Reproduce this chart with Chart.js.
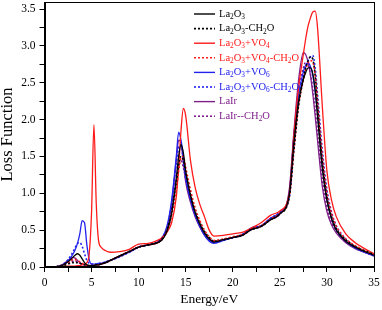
<!DOCTYPE html>
<html>
<head>
<meta charset="utf-8">
<script src="https://cdn.jsdelivr.net/npm/chart.js@4.4.1/dist/chart.umd.min.js"></script>
<style>
  html, body { margin: 0; padding: 0; background: #fff; }
  #wrap { width: 382px; height: 310px; }
</style>
</head>
<body>
<div id="wrap"><canvas id="lossChart" width="382" height="310"></canvas></div>
<script>
// energy (eV)
const energy = [0, 1, 1.5, 2, 2.5, 3, 3.25, 3.5, 3.75, 4, 4.25, 4.5, 4.75, 5, 5.25, 5.5, 5.75, 6, 6.5, 7,
  8, 9, 10, 11, 12, 12.5, 13, 13.5, 14, 14.25, 14.5, 14.75, 15, 15.5, 16, 16.5, 17, 17.5,
  18, 19, 20, 21, 22, 23, 24, 25, 26, 26.5, 27, 27.5, 27.75, 28, 28.25, 28.5, 28.75, 29, 29.5, 30, 30.5, 31, 32, 33, 34, 35]

// loss function per structure
const la2o3 = [0, 0, 0.01, 0.03, 0.07, 0.13, 0.16, 0.18, 0.16, 0.11, 0.06, 0.03, 0.02, 0.02, 0.02, 0.03, 0.03, 0.04, 0.06, 0.09,
  0.15, 0.21, 0.27, 0.30, 0.33, 0.37, 0.48, 0.72, 1.2, 1.5, 1.66, 1.55, 1.3, 0.98, 0.74, 0.58, 0.46, 0.38,
  0.34, 0.37, 0.40, 0.43, 0.51, 0.55, 0.64, 0.72, 0.98, 1.7, 2.25, 2.55, 2.64, 2.7, 2.7, 2.62, 2.4, 2.05, 1.35, 0.9, 0.65, 0.5, 0.35, 0.27, 0.21, 0.16]
const la2o3Ch2o = [0, 0, 0.01, 0.02, 0.04, 0.06, 0.06, 0.06, 0.05, 0.04, 0.03, 0.02, 0.02, 0.02, 0.02, 0.03, 0.03, 0.04, 0.06, 0.09,
  0.15, 0.21, 0.27, 0.30, 0.33, 0.38, 0.5, 0.75, 1.15, 1.38, 1.5, 1.45, 1.28, 0.98, 0.75, 0.6, 0.48, 0.4,
  0.35, 0.37, 0.40, 0.43, 0.51, 0.55, 0.64, 0.72, 0.95, 1.6, 2.2, 2.55, 2.7, 2.8, 2.85, 2.82, 2.6, 2.2, 1.45, 0.95, 0.68, 0.52, 0.37, 0.28, 0.22, 0.17]
const vo4 = [0, 0, 0, 0.01, 0.01, 0.01, 0.01, 0.02, 0.02, 0.03, 0.04, 0.06, 0.18, 0.75, 1.93, 0.85, 0.35, 0.27, 0.22, 0.2,
  0.21, 0.24, 0.31, 0.32, 0.36, 0.4, 0.47, 0.6, 0.95, 1.35, 1.85, 2.15, 2.05, 1.45, 1.08, 0.85, 0.68, 0.5,
  0.42, 0.43, 0.45, 0.47, 0.53, 0.6, 0.7, 0.76, 1.0, 1.8, 2.45, 2.89, 3.1, 3.27, 3.38, 3.46, 3.47, 3.25, 2.2, 1.3, 0.9, 0.68, 0.45, 0.33, 0.25, 0.18]
const vo4Ch2o = [0, 0, 0.01, 0.03, 0.06, 0.1, 0.1, 0.09, 0.07, 0.05, 0.03, 0.02, 0.02, 0.02, 0.02, 0.03, 0.03, 0.04, 0.06, 0.09,
  0.15, 0.21, 0.27, 0.30, 0.33, 0.38, 0.48, 0.7, 1.05, 1.3, 1.48, 1.5, 1.35, 1.05, 0.8, 0.63, 0.5, 0.41,
  0.36, 0.38, 0.41, 0.44, 0.52, 0.56, 0.65, 0.73, 0.95, 1.6, 2.2, 2.55, 2.68, 2.77, 2.8, 2.78, 2.6, 2.25, 1.5, 1.0, 0.72, 0.55, 0.38, 0.29, 0.22, 0.17]
const vo6 = [0, 0, 0.01, 0.03, 0.08, 0.17, 0.23, 0.32, 0.45, 0.63, 0.6, 0.3, 0.1, 0.04, 0.04, 0.04, 0.05, 0.05, 0.07, 0.09,
  0.14, 0.2, 0.27, 0.3, 0.34, 0.4, 0.55, 0.9, 1.5, 1.83, 1.72, 1.5, 1.22, 0.92, 0.7, 0.55, 0.43, 0.35,
  0.32, 0.36, 0.4, 0.44, 0.53, 0.56, 0.66, 0.74, 1.0, 1.78, 2.35, 2.65, 2.74, 2.77, 2.72, 2.6, 2.38, 2.1, 1.4, 0.92, 0.65, 0.5, 0.35, 0.26, 0.2, 0.15]
const vo6Ch2o = [0, 0, 0.01, 0.04, 0.1, 0.2, 0.26, 0.32, 0.33, 0.28, 0.18, 0.09, 0.05, 0.04, 0.04, 0.04, 0.05, 0.05, 0.07, 0.09,
  0.14, 0.2, 0.27, 0.3, 0.34, 0.4, 0.53, 0.85, 1.4, 1.62, 1.65, 1.45, 1.2, 0.92, 0.72, 0.57, 0.45, 0.37,
  0.33, 0.36, 0.4, 0.44, 0.53, 0.56, 0.66, 0.74, 0.95, 1.65, 2.25, 2.6, 2.72, 2.8, 2.85, 2.87, 2.7, 2.35, 1.6, 1.05, 0.74, 0.56, 0.38, 0.28, 0.21, 0.16]
const lair = [0, 0, 0.01, 0.04, 0.09, 0.13, 0.12, 0.09, 0.06, 0.04, 0.03, 0.02, 0.02, 0.02, 0.02, 0.03, 0.03, 0.04, 0.06, 0.09,
  0.15, 0.21, 0.27, 0.3, 0.33, 0.38, 0.52, 0.85, 1.45, 1.72, 1.68, 1.42, 1.15, 0.88, 0.68, 0.54, 0.43, 0.36,
  0.33, 0.37, 0.4, 0.43, 0.51, 0.55, 0.64, 0.72, 1.05, 1.85, 2.55, 2.91, 2.88, 2.78, 2.6, 2.35, 2.05, 1.72, 1.1, 0.75, 0.57, 0.46, 0.33, 0.25, 0.2, 0.15]
const lairCh2o = [0, 0, 0.01, 0.03, 0.06, 0.08, 0.08, 0.07, 0.05, 0.04, 0.03, 0.02, 0.02, 0.02, 0.02, 0.03, 0.03, 0.04, 0.06, 0.09,
  0.15, 0.21, 0.27, 0.3, 0.33, 0.38, 0.5, 0.78, 1.2, 1.4, 1.45, 1.35, 1.2, 0.93, 0.72, 0.57, 0.46, 0.38,
  0.34, 0.37, 0.4, 0.43, 0.51, 0.55, 0.64, 0.72, 1.0, 1.75, 2.4, 2.7, 2.78, 2.75, 2.62, 2.42, 2.15, 1.82, 1.2, 0.8, 0.6, 0.48, 0.34, 0.26, 0.2, 0.15]

// legend labels ("_" marks a subscript character)
const seriesLabels = ["La_2O_3", "La_2O_3-CH_2O", "La_2O_3+VO_4", "La_2O_3+VO_4-CH_2O",
  "La_2O_3+VO_6", "La_2O_3+VO_6-CH_2O", "LaIr", "LaIr--CH_2O"]
const seriesValues = [la2o3, la2o3Ch2o, vo4, vo4Ch2o, vo6, vo6Ch2o, lair, lairCh2o]
const seriesColors = ["#000000", "#000000", "#ff1a1a", "#ff1a1a", "#2222ee", "#2222ee", "#7f1f8a", "#7f1f8a"]
const seriesDotted = [false, true, false, true, false, true, false, true]

const serif = "'Liberation Serif', 'Times New Roman', serif"

// 下付き文字つきテキスト
function drawRich(ctx, text, x, y, size) {
  let cx = x
  for (let i = 0; i < text.length; i++) {
    let ch = text[i]
    let sub = false
    if (ch === "_" && i + 1 < text.length) {
      ch = text[++i]
      sub = true
    }
    ctx.font = (sub ? size * 0.7 : size) + "px " + serif
    ctx.fillText(ch, cx, sub ? y + size * 0.3 : y)
    cx += ctx.measureText(ch).width
  }
}

// 枠線と凡例
const framePlugin = {
  id: "frameAndLegend",
  afterDraw(chart) {
    const ctx = chart.ctx
    const a = chart.chartArea
    ctx.save()
    ctx.strokeStyle = "#000"
    ctx.lineWidth = 1
    ctx.strokeRect(Math.round(a.left) + 0.5, Math.round(a.top) + 0.5, Math.round(a.right - a.left) - 1, Math.round(a.bottom - a.top) - 1)

    const lx = 194, ly = 14, step = 14.6
    ctx.textBaseline = "middle"
    seriesLabels.forEach((label, i) => {
      const y = ly + i * step
      ctx.beginPath()
      ctx.strokeStyle = seriesColors[i]
      ctx.lineWidth = seriesDotted[i] ? 1.6 : 1.4
      ctx.setLineDash(seriesDotted[i] ? [2, 2] : [])
      ctx.moveTo(lx, y)
      ctx.lineTo(lx + 21, y)
      ctx.stroke()
      ctx.setLineDash([])
      ctx.fillStyle = seriesColors[i]
      drawRich(ctx, label, lx + 25, y, 10.5)
    })
    ctx.restore()
  },
}

const datasets = seriesValues.map((vals, i) => ({
  label: seriesLabels[i].replace(/_/g, ""),
  data: energy.map((e, j) => ({ x: e, y: vals[j] })),
  borderColor: seriesColors[i],
  borderWidth: seriesDotted[i] ? 1.6 : 1.3,
  borderDash: seriesDotted[i] ? [2, 2] : [],
  pointRadius: 0,
  fill: false,
  cubicInterpolationMode: "monotone",
}))

new Chart(document.getElementById("lossChart"), {
  type: "line",
  data: { datasets },
  options: {
    responsive: false,
    animation: false,
    layout: { padding: { top: 2, right: 8, left: 0, bottom: 0 } },
    plugins: {
      legend: { display: false },
      tooltip: { enabled: false },
    },
    scales: {
      x: {
        type: "linear",
        min: 0,
        max: 35,
        afterFit: (s) => { s.height = 43; s.paddingLeft = 0; s.paddingRight = 0 },
        ticks: {
          stepSize: 2.5,
          autoSkip: false,
          includeBounds: false,
          maxRotation: 0,
          color: "#000",
          padding: 4,
          font: { family: serif, size: 11.5 },
          callback: (v) => (v % 5 === 0 ? v : ""),
        },
        grid: { drawOnChartArea: false, tickLength: 5, tickColor: "#000" },
        border: { color: "#000" },
        title: { display: true, text: "Energy/eV", color: "#000", font: { family: serif, size: 13.5 }, padding: { top: 0, bottom: 2 } },
      },
      y: {
        min: 0,
        max: 3.595,
        afterFit: (s) => { s.width = 44.5; s.paddingTop = 0; s.paddingBottom = 0 },
        ticks: {
          stepSize: 0.25,
          autoSkip: false,
          includeBounds: false,
          color: "#000",
          padding: 4,
          font: { family: serif, size: 11.5 },
          callback: (v) => (Math.abs(v * 2 - Math.round(v * 2)) < 1e-6 ? v.toFixed(1) : ""),
        },
        grid: { drawOnChartArea: false, tickLength: 5, tickColor: "#000" },
        border: { color: "#000" },
        title: { display: true, text: "Loss Function", color: "#000", font: { family: serif, size: 16.5 }, padding: { top: -2, bottom: 0 } },
      },
    },
  },
  plugins: [framePlugin],
})
</script>
</body>
</html>
